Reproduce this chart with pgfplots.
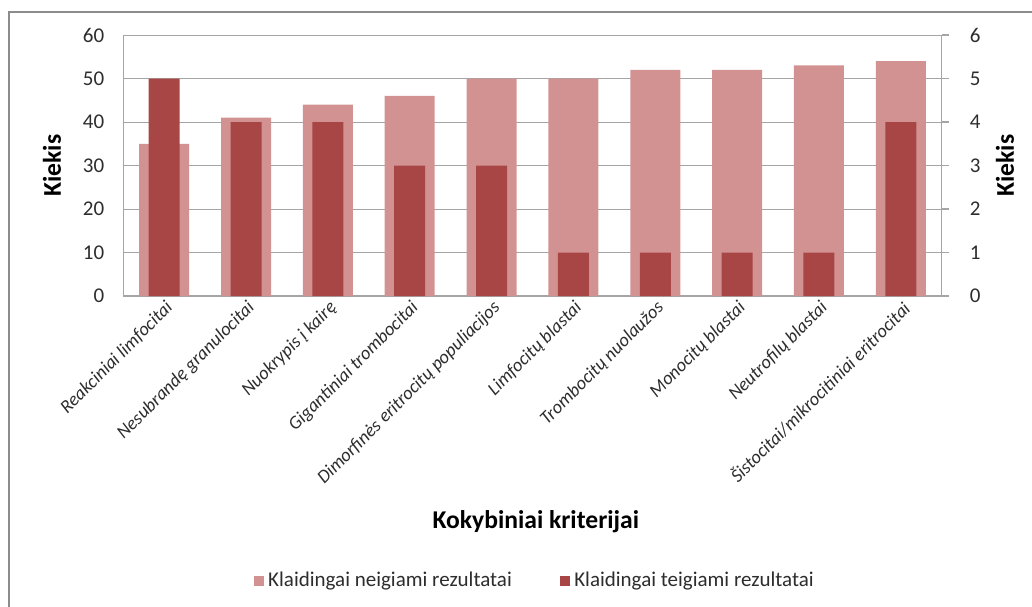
\documentclass[border=0pt]{standalone}
\usepackage{fontspec}
\setmainfont{Carlito}
\usepackage{pgfplots}
\pgfplotsset{compat=1.18}
\definecolor{lightbar}{RGB}{211,146,146}
\definecolor{darkbar}{RGB}{168,70,70}
\definecolor{gridc}{RGB}{165,165,165}
\definecolor{framec}{RGB}{140,140,140}
\definecolor{txt}{RGB}{45,45,45}
\pgfplotsset{
  common/.style={
    at={(61.65pt,-148pt)}, anchor=south west,
    scale only axis, width=409.2pt, height=130.5pt,
    xmin=-0.5, xmax=9.5,
    /pgf/number format/assume math mode=true,
    label style={font=\fontsize{12.8}{15}\selectfont\bfseries},
  }
}
\begin{document}
\begin{tikzpicture}
\useasboundingbox (0,0) rectangle (516pt,-303pt);
\draw[framec,line width=1pt] (516.5pt,-6pt) -- (4.5pt,-6pt) -- (4.5pt,-303.5pt);
\begin{axis}[common,
  ymin=0, ymax=60, ytick={0,10,...,60},
  xtick={0,...,9},
  xticklabels={Reakciniai limfocitai, Nesubrandę granulocitai, Nuokrypis į kairę, Gigantiniai trombocitai, Dimorfinės eritrocitų populiacijos, Limfocitų blastai, Trombocitų nuolaužos, Monocitų blastai, Neutrofilų blastai, Šistocitai/mikrocitiniai eritrocitai},
  xticklabel style={rotate=45, anchor=north east, font=\fontsize{9.3}{11}\selectfont\itshape, text=txt, inner sep=1pt},
  ymajorgrids, grid style={gridc, line width=0.5pt},
  axis x line*=bottom, axis y line*=left,
  axis line style={gridc, line width=0.6pt},
  major tick length=0pt,
  yticklabel style={font=\fontsize{10.5}{12}\selectfont, text=txt, anchor=east, xshift=-6pt},
  ylabel={Kiekis},
  ylabel style={at={(axis description cs:-0.0871,0.5)}, anchor=center},
  xlabel={Kokybiniai kriterijai},
  xlabel style={at={(axis description cs:0.504,-0.866)}, anchor=center},
]
\addplot[ybar, bar width=25pt, fill=lightbar, draw=none, bar shift=0pt] coordinates {
(0,35) (1,41) (2,44) (3,46) (4,50) (5,50) (6,52) (7,52) (8,53) (9,54)};
\end{axis}
\begin{axis}[common,
  ymin=0, ymax=6, ytick={0,...,6},
  axis x line=none, axis y line*=right,
  axis line style={gridc, line width=0.6pt},
  tick style={gridc, line width=0.6pt},
  tick align=outside, major tick length=3.5pt,
  yticklabel={\hspace*{7pt}\pgfmathprintnumber{\tick}},
  yticklabel style={font=\fontsize{10.5}{12}\selectfont, text=txt, anchor=west},
  ylabel={Kiekis},
  ylabel style={at={(axis description cs:1.0773,0.5)}, anchor=center},
  legend style={at={(axis description cs:0.504,-1.092)}, anchor=center, draw=none, legend columns=2,
    font=\fontsize{10.5}{12}\selectfont, text=txt,
    /tikz/every even column/.append style={column sep=22pt}},
  legend image code/.code={\fill[#1] (0pt,-2.6pt) rectangle (5.2pt,2.6pt);},
]
\addlegendimage{fill=lightbar, draw=none}
\addplot[ybar, bar width=15.5pt, fill=darkbar, draw=none, bar shift=0pt] coordinates {
(0,5) (1,4) (2,4) (3,3) (4,3) (5,1) (6,1) (7,1) (8,1) (9,4)};
\legend{Klaidingai neigiami rezultatai, Klaidingai teigiami rezultatai}
\end{axis}
\end{tikzpicture}
\end{document}
